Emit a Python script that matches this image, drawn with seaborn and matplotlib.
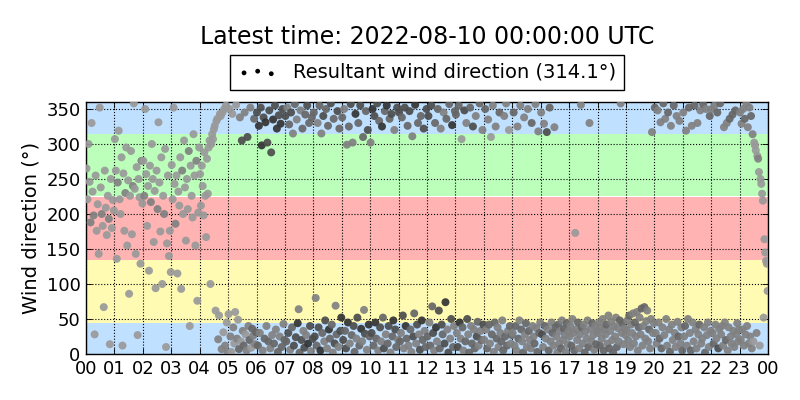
import pandas as pd
import seaborn as sns
import matplotlib.pyplot as plt

title = "Latest time: 2022-08-10 00:00:00 UTC"
legend_label = "Resultant wind direction (314.1°)"
hour_labels = ["00", "01", "02", "03", "04", "05", "06", "07", "08", "09", "10", "11",
               "12", "13", "14", "15", "16", "17", "18", "19", "20", "21", "22", "23", "00"]
y_ticks = [0, 50, 100, 150, 200, 250, 300, 350]

# direction sectors (N, E, S, W, N)
band_edges = [0, 45, 135, 225, 315, 360]
band_colors = ["#bfe0ff", "#fffbb3", "#ffb3b3", "#bbffbb", "#bfe0ff"]

# wind direction samples per hour (deg) and grey level of each marker (tenths)
d00 = [265, 221, 300, 246, 188, 330, 232, 198, 28, 255, 176, 214, 143, 352, 238, 200, 183, 67, 262, 209, 170, 226, 193, 14, 250, 180, 220, 205]
s00 = [6, 6, 6, 6, 5, 6, 6, 5, 6, 6, 6, 6, 6, 6, 6, 5, 6, 6, 6, 6, 6, 6, 5, 6, 6, 6, 6, 6]
d01 = [307, 262, 136, 245, 319, 221, 200, 281, 12, 258, 176, 230, 295, 155, 248, 86, 226, 290, 171, 240, 358, 236, 143, 267, 27, 250, 224, 129, 276, 215]
s01 = [6, 6, 6, 5, 6, 6, 6, 6, 6, 6, 6, 5, 6, 6, 6, 6, 6, 6, 6, 5, 6, 6, 6, 6, 6, 6, 6, 6, 5, 6]
d02 = [276, 226, 350, 257, 183, 240, 119, 269, 217, 300, 250, 160, 233, 94, 262, 207, 331, 245, 175, 281, 100, 226, 200, 293, 10, 158, 255, 140, 176, 117]
s02 = [6, 5, 6, 6, 6, 6, 6, 6, 5, 6, 6, 6, 6, 6, 6, 5, 6, 6, 6, 6, 6, 6, 5, 6, 6, 6, 6, 6, 6, 6]
d03 = [270, 221, 352, 243, 186, 255, 115, 232, 212, 281, 93, 262, 200, 305, 238, 162, 250, 207, 290, 40, 269, 226, 195, 314, 255, 155, 276, 76, 202, 295]
s03 = [6, 6, 6, 6, 5, 6, 6, 6, 6, 6, 6, 5, 6, 6, 6, 6, 6, 6, 5, 6, 6, 6, 6, 6, 6, 6, 5, 6, 6, 6]
d04 = [257, 212, 269, 240, 198, 288, 226, 167, 279, 229, 295, 305, 100, 300, 314, 307, 321, 326, 62, 333, 336, 21, 55, 343, 340, 7, 345, 31, 350, 12, 355, 45, 2]
s04 = [6, 6, 6, 6, 6, 6, 6, 6, 6, 6, 6, 6, 6, 6, 6, 6, 6, 6, 6, 6, 6, 5, 6, 6, 6, 5, 6, 6, 6, 5, 6, 6, 5]
d05 = [57, 350, 25, 3, 343, 38, 15, 60, 356, 22, 49, 7, 338, 18, 305, 33, 12, 345, 28, 5, 310, 40, 20, 352, 9, 36, 26, 336, 14, 31]
s05 = [6, 6, 5, 6, 6, 5, 6, 6, 6, 5, 6, 4, 5, 6, 3, 5, 4, 5, 6, 5, 3, 5, 4, 5, 6, 4, 5, 4, 5, 4]
d06 = [345, 12, 326, 30, 352, 298, 5, 338, 22, 331, 40, 302, 18, 348, 8, 288, 27, 335, 15, 355, 35, 322, 3, 341, 25, 329, 10, 350, 43, 20]
s06 = [3, 4, 2, 5, 3, 2, 5, 3, 4, 2, 5, 3, 4, 3, 5, 3, 5, 2, 4, 3, 5, 2, 4, 3, 5, 2, 4, 3, 5, 4]
d07 = [340, 18, 352, 30, 328, 6, 345, 38, 315, 12, 357, 24, 335, 44, 64, 2, 348, 20, 322, 33, 9, 342, 27, 355, 15, 330, 40, 4, 338, 22]
s07 = [3, 4, 5, 3, 4, 5, 3, 4, 5, 3, 4, 3, 5, 2, 5, 4, 5, 3, 4, 5, 3, 4, 5, 3, 2, 4, 3, 5, 4, 3]
d08 = [345, 25, 80, 12, 330, 38, 355, 5, 315, 30, 340, 18, 48, 350, 8, 326, 35, 22, 358, 42, 2, 336, 15, 69, 28, 347, 10, 322, 33, 52]
s08 = [4, 3, 5, 4, 5, 3, 4, 2, 5, 4, 3, 5, 3, 4, 5, 4, 2, 4, 3, 4, 5, 4, 3, 5, 4, 3, 5, 4, 3, 2]
d09 = [338, 20, 350, 33, 8, 299, 45, 325, 15, 357, 27, 302, 40, 3, 343, 22, 52, 330, 12, 355, 36, 18, 310, 63, 29, 347, 6, 320, 42, 25]
s09 = [4, 3, 5, 4, 3, 5, 2, 4, 5, 3, 4, 5, 3, 4, 2, 5, 3, 4, 4, 3, 2, 5, 4, 5, 3, 4, 5, 3, 2, 4]
d10 = [302, 30, 350, 12, 340, 45, 22, 358, 5, 333, 38, 18, 325, 52, 8, 347, 28, 355, 15, 40, 336, 2, 343, 25, 48, 320, 35, 10, 352, 20]
s10 = [5, 3, 2, 4, 3, 2, 4, 3, 5, 4, 3, 5, 2, 4, 3, 4, 5, 2, 4, 3, 4, 5, 3, 4, 2, 5, 3, 4, 3, 5]
d11 = [345, 18, 30, 338, 55, 8, 352, 40, 22, 326, 12, 347, 35, 3, 311, 25, 58, 356, 15, 42, 330, 28, 6, 340, 48, 20, 322, 33, 10, 350]
s11 = [3, 4, 5, 4, 3, 5, 3, 2, 4, 4, 5, 3, 4, 5, 5, 3, 4, 2, 5, 3, 4, 5, 3, 4, 2, 4, 3, 5, 4, 3]
d12 = [25, 340, 45, 12, 355, 68, 30, 5, 330, 38, 18, 350, 62, 8, 322, 42, 28, 345, 15, 74, 336, 35, 2, 357, 22, 50, 327, 10, 40, 347]
s12 = [4, 3, 5, 4, 3, 4, 3, 5, 4, 2, 5, 4, 3, 4, 5, 3, 4, 5, 3, 2, 4, 5, 3, 4, 5, 3, 2, 4, 5, 4]
d13 = [342, 30, 10, 355, 45, 22, 307, 38, 5, 348, 18, 330, 50, 28, 2, 352, 40, 15, 325, 35, 8, 340, 25, 46, 12, 358, 33, 20, 320, 42]
s13 = [4, 5, 3, 4, 2, 5, 6, 4, 5, 3, 4, 5, 3, 5, 4, 4, 5, 4, 3, 5, 4, 5, 3, 4, 5, 4, 5, 4, 5, 3]
d14 = [20, 350, 35, 8, 335, 42, 15, 310, 28, 355, 3, 45, 325, 22, 38, 10, 345, 30, 18, 48, 5, 340, 25, 358, 12, 33, 320, 40, 15, 27]
s14 = [5, 4, 5, 4, 5, 4, 5, 6, 4, 5, 5, 4, 5, 4, 5, 5, 4, 5, 4, 5, 4, 5, 4, 5, 4, 5, 6, 4, 5, 4]
d15 = [30, 345, 12, 40, 5, 325, 22, 48, 355, 35, 18, 2, 338, 28, 44, 10, 350, 33, 20, 8, 330, 40, 25, 15, 357, 37, 3, 318, 30, 45]
s15 = [5, 4, 5, 4, 5, 5, 4, 5, 5, 4, 5, 4, 5, 5, 4, 5, 5, 4, 5, 5, 4, 5, 5, 4, 5, 5, 4, 5, 4, 5]
d16 = [345, 28, 10, 329, 40, 22, 317, 35, 5, 352, 18, 45, 30, 12, 324, 38, 25, 2, 42, 15, 33, 8, 48, 20, 36, 27, 3, 44, 14, 32]
s16 = [5, 3, 5, 5, 4, 5, 3, 5, 4, 4, 5, 5, 4, 5, 5, 4, 5, 5, 4, 5, 5, 4, 5, 5, 4, 5, 5, 4, 5, 5]
d17 = [25, 40, 12, 50, 30, 5, 173, 35, 20, 45, 8, 28, 356, 38, 15, 42, 2, 32, 22, 48, 10, 330, 36, 18, 44, 27, 6, 40, 14, 33]
s17 = [5, 5, 4, 5, 5, 4, 6, 5, 5, 4, 5, 5, 5, 4, 5, 5, 4, 5, 5, 5, 4, 5, 5, 5, 4, 5, 5, 5, 4, 5]
d18 = [30, 45, 12, 38, 22, 50, 5, 35, 28, 42, 15, 55, 8, 33, 46, 20, 2, 40, 25, 52, 10, 37, 18, 48, 358, 30, 44, 14, 36, 27]
s18 = [5, 5, 4, 5, 5, 5, 4, 5, 5, 4, 5, 5, 4, 5, 5, 5, 4, 5, 5, 5, 4, 5, 5, 4, 5, 5, 4, 5, 5, 5]
d19 = [35, 48, 20, 55, 10, 42, 30, 58, 15, 45, 25, 60, 5, 38, 52, 28, 65, 12, 40, 67, 22, 47, 62, 18, 35, 8, 50, 317, 30, 44]
s19 = [5, 5, 5, 4, 5, 5, 5, 5, 5, 4, 5, 5, 5, 4, 5, 5, 4, 5, 5, 4, 5, 5, 5, 5, 4, 5, 5, 5, 5, 5]
d20 = [352, 30, 15, 348, 45, 22, 331, 8, 38, 358, 27, 336, 50, 12, 345, 35, 3, 326, 42, 20, 355, 30, 10, 340, 46, 25, 333, 15, 38, 5]
s20 = [4, 5, 5, 5, 5, 4, 5, 4, 5, 4, 5, 5, 5, 5, 4, 5, 4, 5, 5, 5, 4, 5, 5, 5, 5, 4, 5, 5, 5, 4]
d21 = [345, 25, 40, 319, 12, 50, 352, 30, 5, 326, 45, 18, 355, 35, 8, 330, 28, 42, 348, 15, 22, 357, 38, 2, 350, 27, 45, 10, 340, 33]
s21 = [5, 5, 4, 5, 5, 5, 4, 5, 4, 5, 5, 5, 4, 5, 5, 5, 5, 4, 5, 5, 5, 4, 5, 4, 5, 5, 5, 5, 4, 5]
d22 = [350, 30, 15, 355, 42, 22, 345, 8, 36, 358, 28, 40, 12, 324, 45, 20, 330, 5, 38, 336, 25, 15, 342, 33, 10, 348, 28, 44, 18, 35]
s22 = [5, 5, 4, 5, 5, 5, 4, 3, 5, 4, 5, 5, 5, 5, 5, 4, 5, 5, 5, 4, 5, 5, 4, 5, 5, 4, 5, 5, 5, 5]
d23 = [345, 20, 329, 35, 350, 12, 336, 28, 358, 40, 324, 15, 352, 25, 340, 8, 314, 18, 302, 298, 291, 30, 283, 279, 260, 12, 250, 243, 229, 219, 52, 164, 145, 133, 129, 90]
s23 = [5, 5, 5, 5, 5, 5, 4, 5, 5, 5, 5, 5, 5, 5, 4, 5, 5, 6, 6, 6, 6, 5, 6, 5, 6, 6, 6, 6, 6, 6, 6, 6, 6, 6, 6, 6]

directions = [d00, d01, d02, d03, d04, d05, d06, d07, d08, d09, d10, d11,
              d12, d13, d14, d15, d16, d17, d18, d19, d20, d21, d22, d23]
shades = [s00, s01, s02, s03, s04, s05, s06, s07, s08, s09, s10, s11,
          s12, s13, s14, s15, s16, s17, s18, s19, s20, s21, s22, s23]

rows = []
for hour, (dirs, grey) in enumerate(zip(directions, shades)):
    assert len(dirs) == len(grey), hour
    n = len(dirs)
    for i, (d, g) in enumerate(zip(dirs, grey)):
        # samples spread evenly over the hour
        rows.append((hour + (i + 0.5) / n, d, g / 10))
df = pd.DataFrame(rows, columns=["hour", "direction", "shade"])

sns.set_theme(style="white", rc={
    "xtick.direction": "in", "ytick.direction": "in",
    "xtick.top": True, "ytick.right": True,
    "xtick.bottom": True, "ytick.left": True,
    "xtick.major.size": 4, "ytick.major.size": 4,
    "xtick.major.width": 0.6, "ytick.major.width": 0.6,
    "axes.edgecolor": "black", "axes.linewidth": 1.0,
    "grid.color": "black", "grid.linestyle": ":", "grid.linewidth": 0.8,
    "xtick.color": "black", "ytick.color": "black",
    "text.color": "black", "axes.labelcolor": "black",
})
plt.rcParams["font.family"] = ["DejaVu Sans"]

fig, ax = plt.subplots(figsize=(8, 4), dpi=100)
fig.subplots_adjust(left=0.1075, right=0.96, bottom=0.115, top=0.745)

for lo, hi, col in zip(band_edges[:-1], band_edges[1:], band_colors):
    ax.axhspan(lo, hi, color=col, lw=0, zorder=0)

sns.scatterplot(data=df, x="hour", y="direction", hue="shade", palette="gray",
                hue_norm=(0, 1), s=33, linewidth=0, alpha=0.92, legend=False,
                zorder=3, ax=ax)

ax.set_xlim(0, 24)
ax.set_ylim(0, 360)
ax.set_xticks(range(25))
ax.set_xticklabels(hour_labels)
ax.set_yticks(y_ticks)
ax.tick_params(labelsize=13, pad=4)
ax.grid(True)
ax.set_xlabel("")
ax.set_ylabel("Wind direction (°)", fontsize=14)
ax.set_title(title, fontsize=17, pad=42)

pts = ax.collections[0]
leg = ax.legend([pts], [legend_label], loc="lower center", bbox_to_anchor=(0.5, 1.01),
                scatterpoints=3, scatteryoffsets=[0.375, 0.5, 0.3125], markerscale=0.6,
                fontsize=14, frameon=True, fancybox=False, edgecolor="black",
                framealpha=1, borderpad=0.4, handletextpad=0.8)
leg.get_frame().set_linewidth(1.0)
for hd in leg.legend_handles:
    hd.set_facecolor("black")
    hd.set_alpha(1)

plt.savefig("out.png", dpi=100)
plt.close()
